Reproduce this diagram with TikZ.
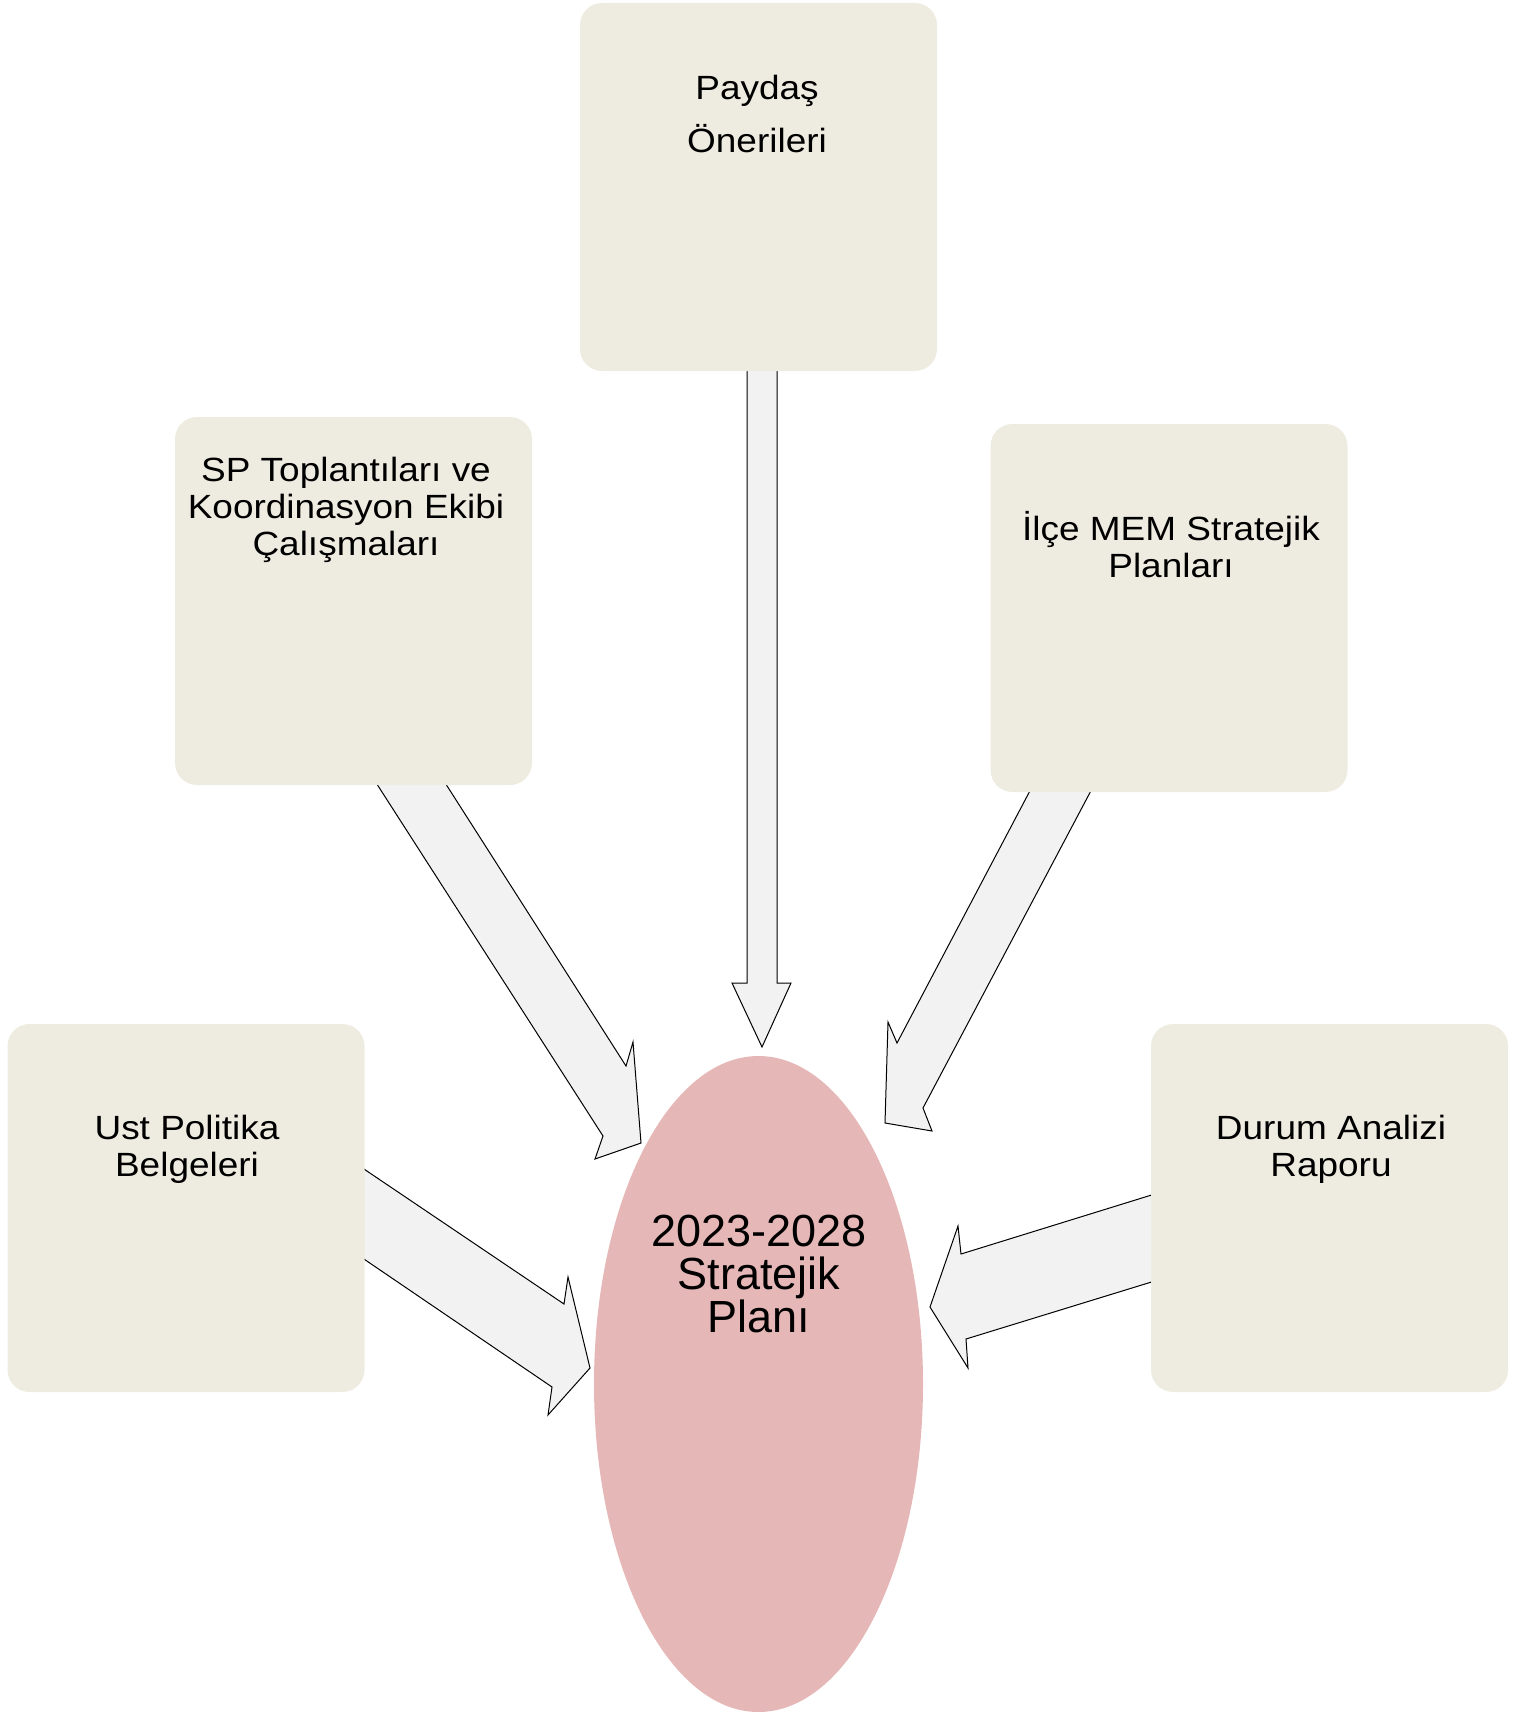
\documentclass[tikz,border=0pt]{standalone}
\usepackage{fontspec}
\setmainfont{Liberation Sans}[FakeStretch=1.1]
\newfontfamily\planfont{Liberation Sans}
\usepackage{tikz}
\usetikzlibrary{shapes.geometric, backgrounds}
\definecolor{boxtan}{HTML}{EEECE1}
\definecolor{planpink}{HTML}{E5B8B7}
\definecolor{arrowgray}{HTML}{F2F2F2}
\tikzstyle{source} = [rectangle, rounded corners=11pt, minimum width=178.5pt, minimum height=184pt, fill=boxtan, inner sep=0pt]
\tikzstyle{sourcetext} = [font=\fontsize{16.8}{18.5}\selectfont, align=center, anchor=base, inner sep=0pt]
\tikzstyle{plan} = [ellipse, minimum width=164.5pt, minimum height=328pt, fill=planpink, inner sep=0pt]
\tikzstyle{plantext} = [font=\planfont\fontsize{22.5}{21.5}\selectfont, align=center, anchor=base, inner sep=0pt]
\tikzstyle{blockarrow} = [draw=black, fill=arrowgray, line width=0.5pt, line join=miter]

\begin{document}
\begin{tikzpicture}[x=0.5pt, y=-0.5pt]
  \useasboundingbox (0,0) rectangle (1537,1718);
  \node (paydas) [source] at (758.5,187) {};
  \node (sp) [source] at (353.5,601) {};
  \node (ilce) [source] at (1169,608) {};
  \node (ust) [source] at (186,1208) {};
  \node (durum) [source] at (1329.5,1208) {};
  \node (plan) [plan] at (758.5,1384) {};
  % base anchor sits on the last line
  \node (paydas text) [sourcetext] at (757,152) {Paydaş\\[7.5pt]Önerileri};
  \node (sp text) [sourcetext] at (346,555) {SP Toplantıları ve\\
    Koordinasyon Ekibi\\
    Çalışmaları};
  \node (ilce text) [sourcetext] at (1171,577) {İlçe MEM Stratejik\\Planları};
  \node (ust text) [sourcetext] at (187,1176) {Ust Politika\\Belgeleri};
  \node (durum text) [sourcetext] at (1331,1176) {Durum Analizi\\Raporu};
  \node (plan text) [plantext] at (759,1332) {2023-2028\\Stratejik\\Planı};
  \begin{pgfonlayer}{background}
    \draw[blockarrow] (747,365) -- (747,983) -- (732,983) -- (762,1047)
      -- (791,983) -- (777,983) -- (777,365) -- cycle;
    \draw[blockarrow] (373,778) -- (603,1136) -- (595,1159) -- (641,1143)
      -- (633,1042) -- (626,1066) -- (442,778) -- cycle;
    \draw[blockarrow] (1033,785) -- (897,1043) -- (888,1022) -- (885,1123)
      -- (932,1131) -- (923,1108) -- (1094,785) -- cycle;
    \draw[blockarrow] (358,1165) -- (564,1304) -- (568,1277) -- (590,1368)
      -- (548,1415) -- (552,1387) -- (358,1255) -- cycle;
    \draw[blockarrow] (1158,1193) -- (961,1254) -- (958,1226) -- (930,1307)
      -- (968,1368) -- (966,1339) -- (1158,1280) -- cycle;
  \end{pgfonlayer}
\end{tikzpicture}
\end{document}
